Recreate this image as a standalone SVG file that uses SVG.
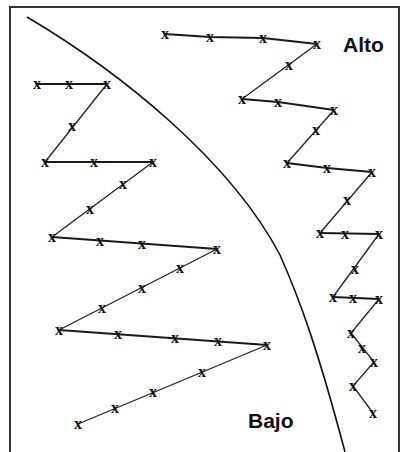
<svg xmlns="http://www.w3.org/2000/svg" width="402" height="452" viewBox="0 0 402 452">
<style>
.frame{fill:none;stroke:#333;stroke-width:2}
.curve{fill:none;stroke:#111;stroke-width:1.6}
.h{fill:none;stroke:#1a1a1a;stroke-width:1.8}
.d{fill:none;stroke:#222;stroke-width:1.3}
.m{font-family:"Liberation Serif",serif;font-size:16px;font-weight:bold;fill:#111;text-anchor:middle;dominant-baseline:central}
.lbl{font-family:"Liberation Sans",Arial,sans-serif;font-size:21px;font-weight:bold;fill:#111}
</style>
<rect width="402" height="452" fill="#fff"/>
<path class="frame" d="M10,452 V7 H399 V452"/>
<g id="boundary">
<path class="curve" d="M27,17 C120,72 230,160 280,255 C300,300 318,350 345,452"/>
</g>
<g id="connectors">
<path class="h" d="M37,84 H107"/>
<path class="d" d="M107,84 L45,162"/>
<path class="h" d="M45,162 H153"/>
<path class="d" d="M153,162 L52,237"/>
<path class="h" d="M52,237 L217,249"/>
<path class="d" d="M217,249 L59,330"/>
<path class="h" d="M59,330 L267,345"/>
<path class="d" d="M267,345 L78,424"/>
<path class="h" d="M165,34 L210,37 L263,38 L317,44"/>
<path class="d" d="M317,44 L242,99"/>
<path class="h" d="M242,99 L278,102 L334,110"/>
<path class="d" d="M334,110 L287,163"/>
<path class="h" d="M287,163 L327,168 L372,172"/>
<path class="d" d="M372,172 L320,233"/>
<path class="h" d="M320,233 L379,234"/>
<path class="d" d="M379,234 L333,297"/>
<path class="h" d="M333,297 L379,299"/>
<path class="d" d="M379,299 L351,333 L374,362 L353,386 L373,413"/>
</g>
<g id="markers-bajo">
<text class="m" x="37" y="83">x</text>
<text class="m" x="69" y="83">x</text>
<text class="m" x="107" y="83">x</text>
<text class="m" x="72" y="125">x</text>
<text class="m" x="45" y="161">x</text>
<text class="m" x="94" y="161">x</text>
<text class="m" x="153" y="161">x</text>
<text class="m" x="123" y="183">x</text>
<text class="m" x="90" y="208">x</text>
<text class="m" x="52" y="236">x</text>
<text class="m" x="100" y="240">x</text>
<text class="m" x="142" y="243">x</text>
<text class="m" x="217" y="248">x</text>
<text class="m" x="180" y="267">x</text>
<text class="m" x="142" y="287">x</text>
<text class="m" x="102" y="307">x</text>
<text class="m" x="59" y="329">x</text>
<text class="m" x="118" y="333">x</text>
<text class="m" x="175" y="337">x</text>
<text class="m" x="218" y="340">x</text>
<text class="m" x="267" y="344">x</text>
<text class="m" x="202" y="371">x</text>
<text class="m" x="153" y="391">x</text>
<text class="m" x="115" y="407">x</text>
<text class="m" x="78" y="423">x</text>
</g>
<g id="markers-alto">
<text class="m" x="165" y="33">x</text>
<text class="m" x="210" y="36">x</text>
<text class="m" x="263" y="37">x</text>
<text class="m" x="317" y="43">x</text>
<text class="m" x="289" y="64">x</text>
<text class="m" x="242" y="98">x</text>
<text class="m" x="278" y="101">x</text>
<text class="m" x="334" y="109">x</text>
<text class="m" x="316" y="129">x</text>
<text class="m" x="287" y="162">x</text>
<text class="m" x="327" y="167">x</text>
<text class="m" x="372" y="171">x</text>
<text class="m" x="347" y="199">x</text>
<text class="m" x="320" y="232">x</text>
<text class="m" x="345" y="233">x</text>
<text class="m" x="379" y="233">x</text>
<text class="m" x="355" y="268">x</text>
<text class="m" x="333" y="296">x</text>
<text class="m" x="353" y="297">x</text>
<text class="m" x="379" y="298">x</text>
<text class="m" x="351" y="332">x</text>
<text class="m" x="362" y="347">x</text>
<text class="m" x="374" y="361">x</text>
<text class="m" x="353" y="385">x</text>
<text class="m" x="373" y="412">x</text>
</g>
<g id="label-alto"><text class="lbl" x="343" y="52">Alto</text></g>
<g id="label-bajo"><text class="lbl" x="248" y="428">Bajo</text></g>
</svg>
